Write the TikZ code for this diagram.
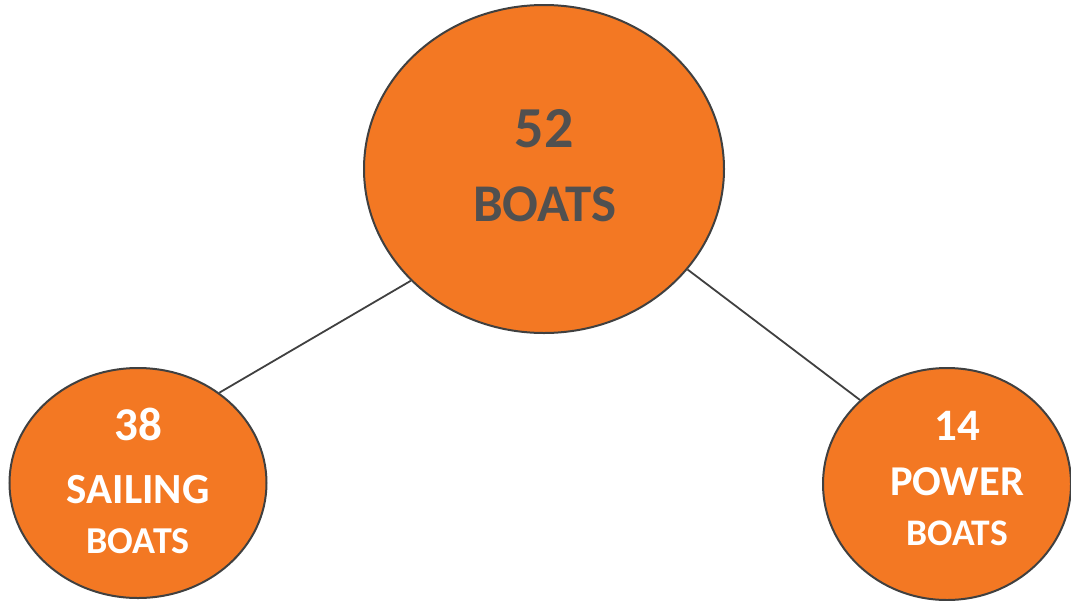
\documentclass[tikz,border=0pt]{standalone}
\usepackage{fontspec}
\setmainfont{Carlito}
\usetikzlibrary{shapes.geometric}
\definecolor{boatorange}{RGB}{243,120,35}
\definecolor{boatline}{RGB}{64,64,64}
\definecolor{boattext}{RGB}{80,80,80}
\newcommand{\fs}[1]{\fontsize{#1}{#1}\selectfont\bfseries}
\begin{document}
\begin{tikzpicture}[
                x=1pt, y=-1pt,
                bubble/.style={ellipse, draw=boatline, line width=2pt, fill=boatorange, inner sep=0pt},
                link/.style={draw=boatline, line width=1.8pt},
                word/.style={anchor=base, inner sep=0pt, text=white},
            ]
            \useasboundingbox (0,0) rectangle (1071,600);
            % === ellipses ===
            \node[bubble, minimum width=360pt, minimum height=328pt] (all) at (544,169) {};
            \node[bubble, minimum width=257pt, minimum height=230pt] (sail) at (138,483) {};
            \node[bubble, minimum width=248pt, minimum height=232pt] (power) at (947,484) {};

            % === links ===
            \draw[link] (sail.48) -- (all.220);
            \draw[link] (power.136) -- (all.325);

            % === labels ===
            \node[word, text=boattext, font=\fs{58}] (all-n) at (544,147) {52};
            \node[word, text=boattext, font=\fs{53}] (all-t) at (545,221) {BOATS};
            \node[word, font=\fs{47}] (sail-n) at (138,440) {38};
            \node[word, font=\fs{43}] (sail-t) at (138,503) {SAILING};
            \node[word, font=\fs{38}] (sail-b) at (138,553) {BOATS};
            \node[word, font=\fs{45}] (power-n) at (957,440) {14};
            \node[word, font=\fs{42.5}] (power-t) at (957,495) {POWER};
            \node[word, font=\fs{37.5}] (power-b) at (957,545) {BOATS};
\end{tikzpicture}
\end{document}
